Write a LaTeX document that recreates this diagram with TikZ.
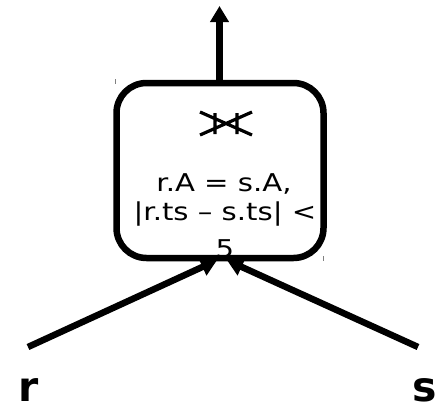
\documentclass[tikz,border=0pt]{standalone}
\usepackage{fontspec}
\setmainfont{DejaVu Sans}
\newfontfamily\widefont[FakeStretch=1.19]{DejaVu Sans}
\usetikzlibrary{arrows.meta}
\begin{document}
\begin{tikzpicture}[x=1pt,y=-1pt,
  opbox/.style={draw, line width=6.5pt, rounded corners=30pt, minimum width=207pt, minimum height=175pt, inner sep=0pt},
  conn/.style={line width=6.5pt, -{Triangle[length=16pt,width=18pt]}},
  cond/.style={font=\widefont\fontsize{24.5}{29}\selectfont, anchor=base, inner sep=0pt},
  rel/.style={font=\bfseries\fontsize{41}{48}\selectfont, anchor=base, inner sep=0pt},
  joinsym/.style={line width=3.2pt},
  tick/.style={line width=1pt, gray}]
\useasboundingbox (0,0) rectangle (441,405);
\node[opbox] (join) at (220,170.5) {};
% join symbol
\draw[joinsym] (200,112) -- (252,135) (200,135) -- (252,112)
  (215,113) -- (215,134) (237,113) -- (237,134);
\node[cond] (c1) at (224,191) {r.A = s.A,};
\node[cond] (c2) at (225,220) {|r.ts – s.ts| <};
\node[cond] (c3) at (225,257) {5};
\node[rel] (r) at (29,401.5) {r};
\node[rel] (s) at (425,401.5) {s};
\coordinate (rstart) at (28,347);
\coordinate (sstart) at (418,347);
\coordinate (out) at (219.5,6);
\draw[conn] (rstart) -- ([xshift=-3pt,yshift=1pt]join.south);
\draw[conn] (sstart) -- ([xshift=7pt,yshift=1pt]join.south);
\draw[conn] (join.north -| out) -- (out);
\draw[tick] (115.5,79) -- (115.5,84);
\draw[tick] (323.5,256) -- (323.5,261);
\end{tikzpicture}
\end{document}
